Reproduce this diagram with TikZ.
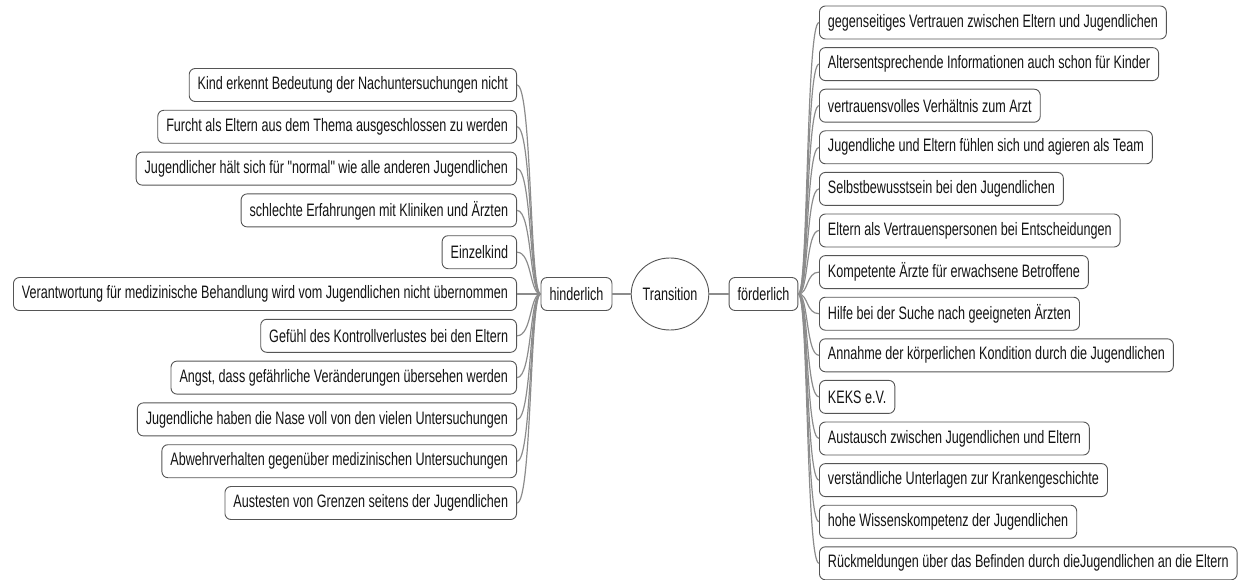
\documentclass[tikz,border=0pt]{standalone}
\usepackage{fontspec}
\setmainfont[FakeStretch=0.70,Ligatures=TeXOff]{Liberation Sans}
\usetikzlibrary{shapes.geometric}
\definecolor{boxline}{RGB}{85,85,85}
\definecolor{conncol}{RGB}{140,140,140}
\definecolor{txt}{RGB}{20,20,20}
\tikzset{
  mmbox/.style={draw=boxline, line width=0.9pt, rounded corners=6pt, fill=white,
    minimum height=33pt, inner xsep=8.5pt, inner ysep=0pt, text=txt,
    font=\fontsize{18}{20}\selectfont},
  lbox/.style={mmbox, anchor=east},
  rbox/.style={mmbox, anchor=west},
  centre/.style={draw=boxline, line width=0.9pt, ellipse, minimum width=75pt,
    minimum height=72pt, inner sep=0pt, fill=white, text=txt,
    font=\fontsize{18}{20}\selectfont},
  conn/.style={draw=conncol, line width=1.2pt},
}
\begin{document}
\begin{tikzpicture}[x=1pt,y=-1pt]
\useasboundingbox (0,0) rectangle (1244,580);
% centre
\node[centre] (T) at (670,294) {Transition};
\node[mmbox] (H) at (576.5,294) {hinderlich};
\node[mmbox] (F) at (763.5,294) {förderlich};
\draw[conn] (H) -- (T);
\draw[conn] (T) -- (F);
% left branches
\node[lbox] (L1) at (517,85.0) {Kind erkennt Bedeutung der Nachuntersuchungen nicht};
\node[lbox] (L2) at (517,126.8) {Furcht als Eltern aus dem Thema ausgeschlossen zu werden};
\node[lbox] (L3) at (517,168.6) {Jugendlicher hält sich für "normal" wie alle anderen Jugendlichen};
\node[lbox] (L4) at (517,210.4) {schlechte Erfahrungen mit Kliniken und Ärzten};
\node[lbox] (L5) at (517,252.2) {Einzelkind};
\node[lbox] (L6) at (517,294.0) {Verantwortung für medizinische Behandlung wird vom Jugendlichen nicht übernommen};
\node[lbox] (L7) at (517,335.8) {Gefühl des Kontrollverlustes bei den Eltern};
\node[lbox] (L8) at (517,377.6) {Angst, dass gefährliche Veränderungen übersehen werden};
\node[lbox] (L9) at (517,419.4) {Jugendliche haben die Nase voll von den vielen Untersuchungen};
\node[lbox] (L10) at (517,461.2) {Abwehrverhalten gegenüber medizinischen Untersuchungen};
\node[lbox] (L11) at (517,503.0) {Austesten von Grenzen seitens der Jugendlichen};
\foreach \i in {1,...,11}{
  \draw[conn] (H.west) .. controls +(-11,0) and +(15,0) .. (L\i.east);
}
% right branches
\node[rbox] (R1) at (819,22.5) {gegenseitiges Vertrauen zwischen Eltern und Jugendlichen};
\node[rbox] (R2) at (819,64.1) {Altersentsprechende Informationen auch schon für Kinder};
\node[rbox] (R3) at (819,105.7) {vertrauensvolles Verhältnis zum Arzt};
\node[rbox] (R4) at (819,147.3) {Jugendliche und Eltern fühlen sich und agieren als Team};
\node[rbox] (R5) at (819,188.9) {Selbstbewusstsein bei den Jugendlichen};
\node[rbox] (R6) at (819,230.5) {Eltern als Vertrauenspersonen bei Entscheidungen};
\node[rbox] (R7) at (819,272.1) {Kompetente Ärzte für erwachsene Betroffene};
\node[rbox] (R8) at (819,313.7) {Hilfe bei der Suche nach geeigneten Ärzten};
\node[rbox] (R9) at (819,355.3) {Annahme der körperlichen Kondition durch die Jugendlichen};
\node[rbox] (R10) at (819,396.9) {KEKS e.V.};
\node[rbox] (R11) at (819,438.5) {Austausch zwischen Jugendlichen und Eltern};
\node[rbox] (R12) at (819,480.1) {verständliche Unterlagen zur Krankengeschichte};
\node[rbox] (R13) at (819,521.7) {hohe Wissenskompetenz der Jugendlichen};
\node[rbox] (R14) at (819,563.3) {Rückmeldungen über das Befinden durch dieJugendlichen an die Eltern};
\foreach \i in {1,...,14}{
  \draw[conn] (F.east) .. controls +(10,0) and +(-13,0) .. (R\i.west);
}
\end{tikzpicture}
\end{document}
